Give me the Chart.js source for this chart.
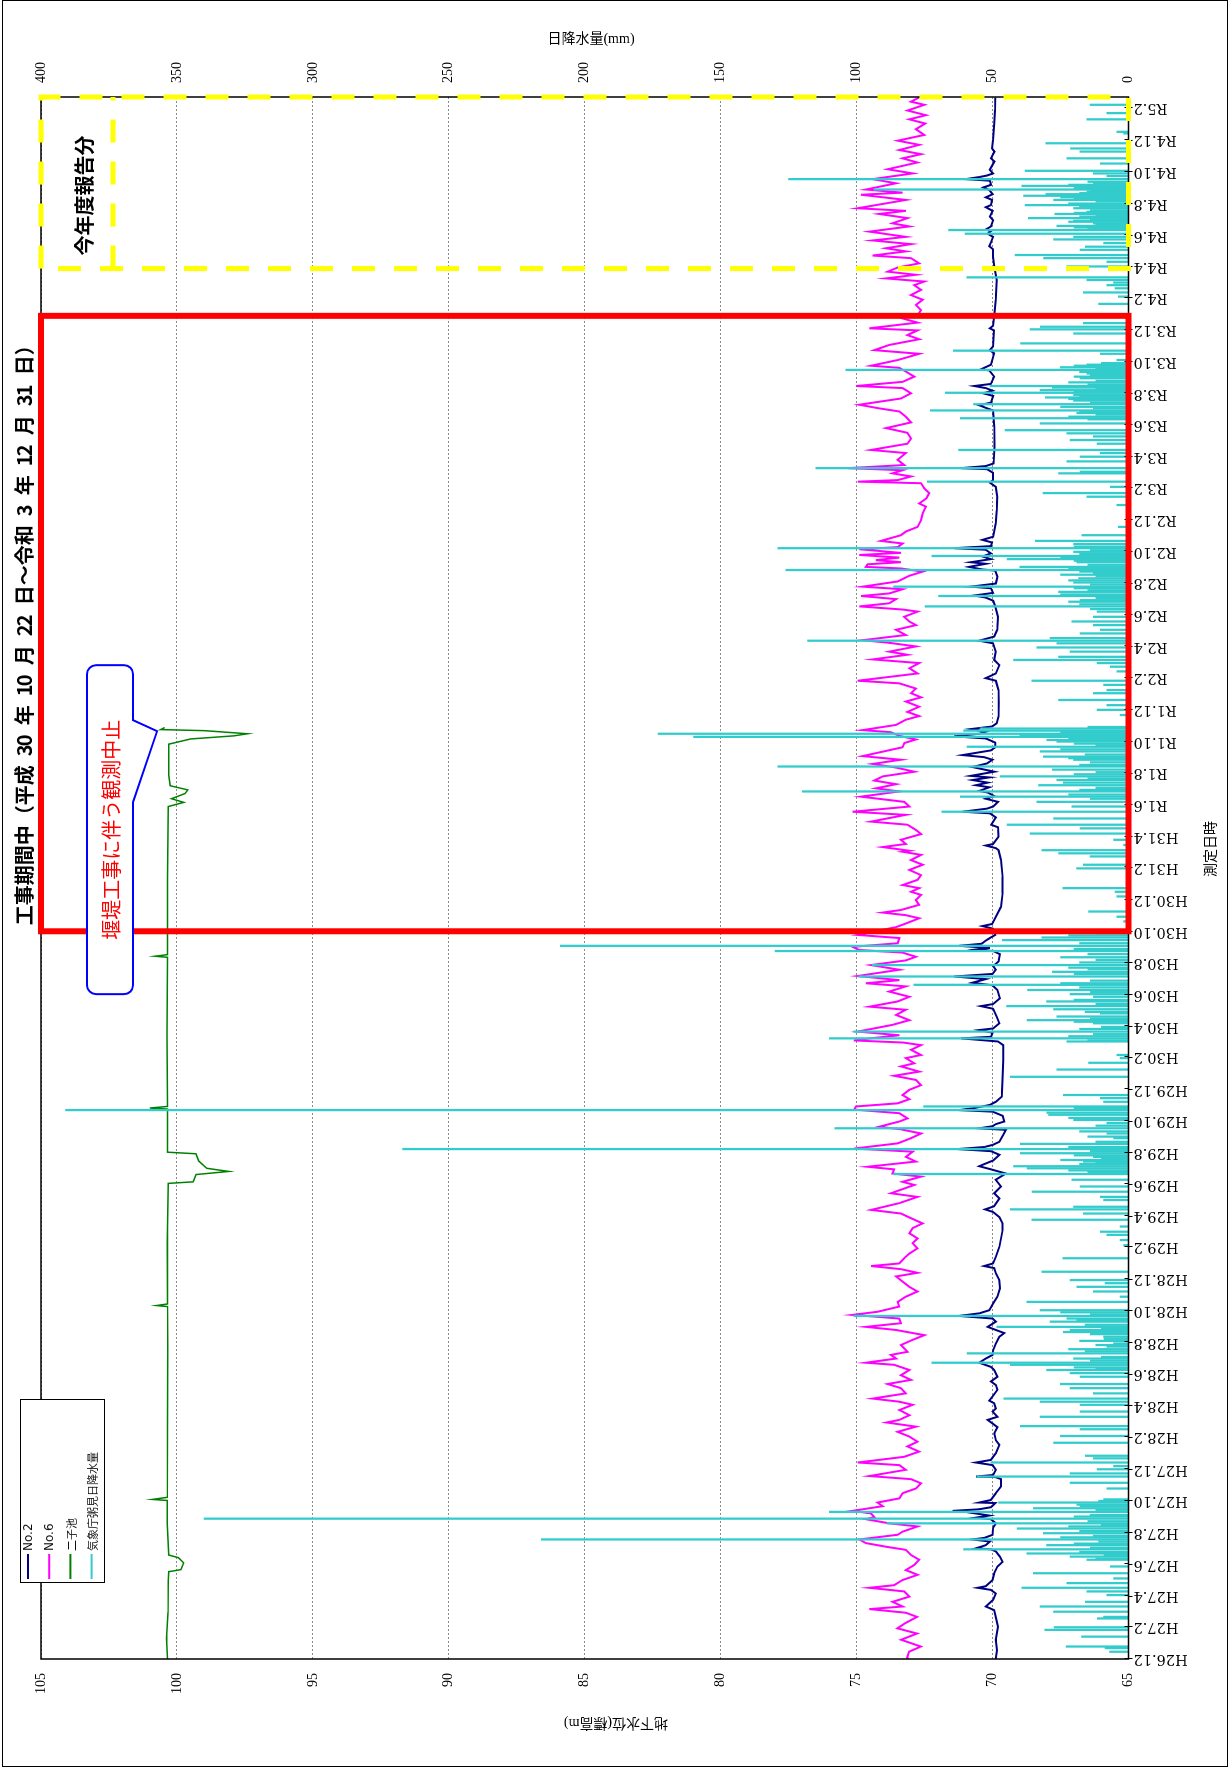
<!DOCTYPE html>
<html lang="ja">
<head>
<meta charset="utf-8">
<title>地下水位・日降水量</title>
<script src="https://cdn.jsdelivr.net/npm/chart.js@4.4.1/dist/chart.umd.min.js"></script>
<style>
  html, body { margin: 0; padding: 0; background: #fff; }
  body { width: 1229px; height: 1767px; position: relative; overflow: hidden; }
  #frame { position: absolute; left: 2px; top: 0; width: 1226px; height: 1767px; border: 1.5px solid #000; box-sizing: border-box; }
  /* the chart is laid out landscape and turned a quarter turn to stand upright on the page */
  #turn { position: absolute; left: 0; top: 0; width: 1767px; height: 1229px;
          transform-origin: 0 0; transform: translate(0px, 1767px) rotate(-90deg); }
  canvas { display: block; }
</style>
</head>
<body>
<div id="frame"></div>
<div id="turn"><canvas id="c" width="1767" height="1229"></canvas></div>
<script>
// All dates are day offsets counted from DAY0.
const DAY0 = [2014, 12, 1];

// Date-axis labels (Heisei / Reiwa year.month), every two months
const tickLabels = ['H26.12','H27.2','H27.4','H27.6','H27.8','H27.10','H27.12','H28.2','H28.4','H28.6','H28.8','H28.10','H28.12',
  'H29.2','H29.4','H29.6','H29.8','H29.10','H29.12','H30.2','H30.4','H30.6','H30.8','H30.10','H30.12','H31.2','H31.4',
  'R1.6','R1.8','R1.10','R1.12','R2.2','R2.4','R2.6','R2.8','R2.10','R2.12','R3.2','R3.4','R3.6','R3.8','R3.10','R3.12',
  'R4.2','R4.4','R4.6','R4.8','R4.10','R4.12','R5.2'];

const seriesNames = ['No.2', 'No.6', '二子池', '気象庁粥見日降水量'];
const seriesColors = ['#000080', '#ff00ff', '#008000', '#33cccc'];
const axisTitles = { date: '測定日時', level: '地下水位(標高m)', rain: '日降水量(mm)' };

// Period boxes [from, to] in day offsets
const constructionSpan = [1400, 2584];   // 工事期間中 H30.10.22 – R3.12.31
const reportSpan = [2675, 3005];         // 今年度報告分
const pondStopDay = 1785;                // 二子池 observation halted
const constructionTitle = '工事期間中（平成 30 年 10 月 22 日～令和 3 年 12 月 31 日）';
const pondNote = '堰堤工事に伴う観測中止';
const reportNote = '今年度報告分';

// Daily rainfall at 粥見 (JMA) [day, mm]
const rainfall = [
[14,7],[21,8.6],[24,23],[43,17.3],[56,30.8],[61,27.4],[78,11.5],[81,9.2],[91,27.6],[101,32.5],[110,15.9],[123,8],[130,15.3],[137,39.2],[146,22.7],[155,5.5],[165,35],[178,6.7],[191,15.3],[193,12],[197,21.5],[200,9],[203,37.4],[206,18],[211,60.7],[214,14],[219,30.1],[222,20],[226,11],[230,216],[234,25],[237,13],[242,31.3],[246,18],[251,41],[255,22],[258,10],[261,88.9],[265,15],[270,340],[274,20],[277,14.1],[283,110],[287,12],[290,35],[294,17.8],[297,19],[301,47.8],[304,11],[307,9.2],[328,8],[339,21.5],[351,55.8],[357,21.5],[365,11.6],[371,5.5],
[378,50.6],[386,12.9],[391,15.9],[416,27.6],[429,25.1],[442,17.8],[448,39.8],[466,32.5],[476,17.8],[489,17.8],[495,32.5],[501,45.9],[511,12.9],[521,21.5],[529,25.1],[543,17.8],[550,21.5],[556,30.1],[558,12],[561,20],[566,43.5],[570,72.3],[574,14],[578,20.2],[581,10],[588,59.4],[592,16],[596,22],[601,8],[604,12],[607,5.5],[612,18],[616,9],[620,9.2],[625,14],[629,24],[633,21.5],[636,10],[639,48.4],[643,16],[649,28.8],[652,19],[655,22.7],[660,101],[663,14],[667,25],[671,32.5],[687,37.4],[697,3.1],[707,12.9],[716,19],[723,8.6],[729,21.5],[745,31.9],
[771,24.2],[796,1.8],[806,3.1],[816,8],[822,10.4],[832,3.1],[845,35.6],[857,16.6],[865,43.5],[870,20.2],[883,9.2],[889,10.4],[899,35.5],[909,17.8],[922,20.8],[933,86.4],[937,15],[940,22],[944,37.3],[948,42.3],[952,18],[955,12],[957,16.6],[960,25],[963,10],[966,12.9],[969,20],[973,39.8],[977,14],[981,267],[985,22],[991,39.8],[995,12],[1002,5.5],[1005,15],[1011,8],[1015,18],[1021,108],[1026,12],[1031,8],[1037,20.2],[1041,22],[1047,29.4],[1051,30],[1056,391],[1060,20],[1063,75.4],[1072,9.2],[1079,10.4],[1085,24],[1120,43.5],[1134,26.4],[1147,14.7],[1156,3.1],[1162,4.3],
[1188,22.7],[1190,15],[1194,110],[1198,22],[1202,12.9],[1207,101],[1212,18],[1216,10],[1223,12.9],[1226,20],[1229,37.3],[1232,14],[1236,26.4],[1242,10.4],[1245,16],[1250,27.6],[1256,44.8],[1260,12],[1265,30.1],[1268,20],[1274,12.9],[1279,21.5],[1283,14],[1287,37.1],[1292,18],[1297,79],[1300,25],[1305,14],[1313,99.3],[1318,20],[1322,28],[1327,15],[1330,22],[1335,94.3],[1340,18],[1345,12],[1350,25],[1356,15],[1362,130],[1366,20],[1372,209],[1377,18],[1383,46.4],[1388,31.9],[1392,22],[1396,12],[1399,30],[1419,1.8],[1428,4.3],[1438,14.7],[1467,4.3],[1476,4.9],[1483,24.2],[1521,19.1],[1528,16.6],[1544,14.1],[1550,25.7],
[1556,31.9],[1566,1.8],[1576,5.5],[1588,36.2],[1598,17.8],[1605,44.7],[1617,27.6],[1630,68.7],[1640,20.8],[1649,33.7],[1655,14],[1659,61.9],[1663,22],[1669,120],[1672,18],[1676,12],[1681,33.1],[1686,24],[1691,26.4],[1694,15],[1698,47.2],[1702,20],[1706,12],[1711,28],[1717,129],[1720,18],[1725,14],[1730,20.2],[1733,22],[1736,31.3],[1740,16],[1746,32.5],[1750,25],[1755,59.4],[1758,12],[1761,20],[1765,26.4],[1768,30],[1771,22],[1774,160],[1777,40],[1780,173],[1783,25],[1786,60.7],[1790,54.6],[1793,15],[1816,3.1],[1826,11.6],[1835,8],[1845,25.7],[1858,12.9],[1864,8],[1874,9.2],[1882,35.6],[1900,4.3],[1909,6.7],[1916,11.6],[1922,42.3],
[1928,25.7],[1938,21.5],[1946,33.7],[1954,26.4],[1959,118],[1964,28.8],[1973,17.8],[1980,10.4],[1989,12.9],[1996,20.8],[2005,12.9],[2015,11.6],[2020,14],[2025,74.8],[2029,18],[2034,22],[2037,17.8],[2041,12],[2045,69.9],[2048,25],[2053,25.7],[2056,15],[2060,20],[2063,86.4],[2067,14],[2071,20.2],[2075,22],[2079,18.4],[2083,12],[2086,25],[2089,12.9],[2092,18],[2095,126],[2098,22],[2101,40],[2105,15],[2110,19],[2113,20],[2116,44.7],[2119,25],[2122,72.3],[2126,18],[2130,20.2],[2133,14],[2137,129],[2140,20],[2145,20.2],[2151,34.3],[2162,17.2],[2178,3.7],[2220,4.3],[2236,15.3],[2243,31.4],[2255,6.7],[2265,74],[2281,25.7],
[2284,17.8],[2291,115],[2304,22.7],[2313,17.8],[2320,10.4],[2326,62.5],[2338,11.6],[2345,21.5],[2352,12.9],[2358,22.7],[2364,45.4],[2377,32.5],[2385,15],[2387,61.9],[2390,22],[2394,12],[2397,19],[2399,18],[2402,72.9],[2406,12.9],[2409,25],[2414,57],[2417,14],[2421,20.2],[2424,22],[2427,30.6],[2429,18],[2432,20.2],[2436,67.4],[2439,20],[2441,32.5],[2443,12],[2446,28],[2449,50.9],[2452,15],[2456,22],[2459,12],[2464,17.8],[2467,20],[2470,14],[2473,15.3],[2476,18],[2480,104],[2482,12],[2485,25.1],[2488,20],[2490,15.3],[2493,10],[2499,4.3],[2511,10.4],[2517,64.4],[2531,39.7],[2550,20.2],[2558,36.2],[2563,32.4],[2570,16.6],[2607,11],[2621,3.7],[2629,16.6],[2637,4.9],[2643,8],
[2648,5.5],[2653,15.3],[2658,59.5],[2679,22.7],[2688,8],[2695,31.2],[2701,41.7],[2711,17.8],[2717,15.9],[2724,9.2],[2731,27.6],[2736,20.2],[2742,60.1],[2749,66.2],[2751,15],[2754,20],[2757,26.4],[2760,12],[2762,12.9],[2765,22],[2767,20.2],[2770,14],[2772,36.8],[2775,18],[2777,12],[2780,27.1],[2782,20],[2784,15.3],[2787,14],[2791,20.2],[2794,18],[2797,38],[2800,22],[2804,12],[2807,27.6],[2810,20],[2812,25],[2815,38.6],[2818,30.4],[2820,18],[2823,15.3],[2825,14],[2827,93.5],[2830,20],[2834,39.2],[2836,22],[2839,12.9],[2842,15],[2847,125],[2853,8],[2858,12.9],[2863,38],[2877,10.4],[2887,22.7],[2900,17.9],[2906,21.3],[2916,30.4],[2935,1.8],[2938,4.3],[2962,15.3],[2974,8],[2990,14.1]
];

// Groundwater level No.2 [day, m]
const no2 = [
[0,69.88],[17,69.84],[37,69.88],[62,69.8],[81,69.88],[94,69.94],[101,70.25],[114,69.98],[126,69.88],[133,70.06],[137,70.55],[140,70.25],[152,70.0],[165,69.94],[178,69.82],[187,69.63],[197,69.73],[207,69.88],[211,70.06],[213,70.61],[219,70.25],[226,70.1],[230,70.74],[233,70.3],[239,70.0],[253,69.98],[261,69.88],[269,70.06],[272,70.61],[276,70.12],[283,71.0],[285,71.47],[288,70.5],[292,70.06],[300,69.9],[301,70.49],[306,70.06],[319,69.88],[332,69.69],[346,69.69],[350,69.9],[351,70.61],[354,69.98],[364,69.88],[373,70.0],[378,70.61],[383,70.06],[396,69.88],[412,69.75],[421,69.88],[434,69.94],[446,69.82],[453,70.0],[460,70.18],[466,69.82],[476,70.0],[482,69.88],[492,69.94],[497,70.12],[505,70.0],[518,69.82],[527,69.88],[534,70.06],[543,69.82],[556,69.94],[562,70.06],[570,70.49],[578,70.25],[585,70.0],[594,69.98],[607,69.88],[620,69.75],[627,69.57],[633,69.88],[639,70.18],[649,69.88],[655,70.0],[660,71.23],[665,70.49],[671,70.12],[684,69.98],[697,69.82],[713,69.73],[729,69.75],[742,69.88],[752,69.94],[756,70.31],[761,69.98],[774,69.88],[793,69.75],[825,69.63],
[838,69.63],[850,69.75],[860,69.98],[865,70.27],[871,69.94],[886,69.75],[896,69.94],[909,69.69],[922,69.88],[934,69.51],[942,70.06],[948,70.49],[952,70.31],[959,69.98],[970,69.75],[977,70.06],[981,71.29],[985,70.3],[989,70.0],[995,69.75],[1008,69.61],[1018,69.51],[1021,70.49],[1025,70.0],[1029,69.88],[1034,69.57],[1045,69.63],[1053,70.0],[1056,71.23],[1060,70.67],[1066,70.1],[1072,69.88],[1082,69.66],[1114,69.63],[1152,69.61],[1181,69.61],[1188,69.8],[1194,71.16],[1197,70.06],[1205,70.0],[1210,70.49],[1213,69.98],[1223,69.75],[1236,69.85],[1251,69.98],[1256,70.43],[1260,69.98],[1271,69.73],[1287,69.82],[1296,70.0],[1301,70.74],[1308,70.25],[1313,71.41],[1318,70.0],[1326,69.88],[1333,69.98],[1342,69.78],[1356,69.73],[1362,69.98],[1365,70.6],[1368,70.1],[1372,71.23],[1376,70.4],[1382,70.25],[1387,70.1],[1393,69.9],[1405,69.98],[1410,70.37],[1414,70.02],[1428,69.88],[1447,69.69],[1473,69.63],[1505,69.63],[1537,69.69],[1556,69.78],
[1560,69.88],[1565,70.25],[1568,69.98],[1582,69.78],[1600,69.8],[1605,70.05],[1619,69.88],[1627,70.1],[1630,71.1],[1636,70.2],[1640,69.98],[1649,69.8],[1655,70.25],[1660,69.93],[1667,70.18],[1670,70.49],[1677,70.12],[1681,70.61],[1686,70.18],[1691,70.74],[1696,70.12],[1699,70.8],[1707,69.94],[1716,70.74],[1723,70.2],[1730,70.0],[1735,70.31],[1739,71.1],[1748,70.06],[1754,69.9],[1763,69.9],[1771,70.25],[1775,71.41],[1780,70.49],[1784,70.25],[1789,70.8],[1794,70.02],[1800,69.85],[1813,69.78],[1839,69.77],[1864,69.78],[1882,69.88],[1887,70.25],[1896,69.88],[1912,69.75],[1922,69.94],[1938,69.88],[1954,69.98],[1959,70.49],[1967,69.94],[1980,69.83],[2005,69.8],[2025,69.9],[2036,69.98],[2042,70.25],[2046,70.67],[2051,69.98],[2060,70.06],[2063,70.8],[2069,69.88],[2082,69.82],[2094,69.9],[2096,70.37],[2101,70.86],[2107,70.25],[2110,70.8],[2116,70.06],[2121,70.37],[2127,70.06],[2134,70.25],[2137,71.41],[2141,70.06],[2148,70.02],[2153,70.37],[2159,69.98],[2185,69.88],[2210,69.85],[2236,69.83],[2255,69.88],[2263,70.1],[2268,69.98],[2282,69.98],[2289,70.2],[2291,71.16],[2295,70.25],[2300,69.96],
[2332,69.93],[2371,69.94],[2402,69.98],[2407,70.25],[2412,70.49],[2417,70.06],[2430,69.98],[2435,70.34],[2440,70.0],[2445,70.25],[2449,70.67],[2453,70.06],[2467,69.94],[2479,70.12],[2481,70.43],[2490,70.06],[2512,69.94],[2518,70.1],[2525,69.98],[2556,69.95],[2560,70.1],[2565,69.98],[2589,69.93],[2615,69.88],[2653,69.85],[2679,69.94],[2698,69.98],[2712,69.98],[2718,70.12],[2725,70.06],[2736,69.98],[2742,70.18],[2747,70.06],[2750,70.25],[2756,70.06],[2768,69.98],[2775,70.1],[2786,70.0],[2793,70.25],[2797,70.06],[2807,70.02],[2812,70.25],[2818,70.0],[2826,70.12],[2831,70.34],[2836,70.06],[2844,70.1],[2847,70.98],[2851,70.49],[2854,70.2],[2858,69.98],[2865,70.1],[2881,69.93],[2887,70.06],[2900,69.93],[2906,70.02],[2922,69.98],[2954,69.94],[2980,69.91],[3004,69.9]
];

// Groundwater level No.6 [day, m]
const no6 = [
[0,73.1],[3,73.14],[14,73.07],[24,72.64],[37,73.36],[49,72.78],[59,73.5],[69,73.21],[81,72.78],[89,73.19],[96,74.53],[101,73.31],[110,73.68],[120,73.06],[130,73.25],[137,74.53],[142,73.62],[152,73.31],[162,72.76],[171,73.19],[181,72.88],[191,72.7],[200,73.0],[210,73.19],[216,73.92],[223,74.66],[230,74.9],[239,73.49],[245,73.31],[255,72.76],[261,73.8],[269,74.66],[273,74.35],[280,74.47],[285,75.15],[294,74.04],[301,74.23],[309,73.43],[319,73.31],[328,72.82],[338,72.63],[346,73.0],[352,74.53],[364,73.19],[373,73.43],[378,74.96],[389,73.25],[399,72.7],[409,73.13],[418,72.76],[428,73.06],[437,73.49],[447,72.82],[455,73.9],[460,73.43],[469,73.06],[479,73.43],[489,72.94],[495,73.43],[501,74.41],[511,73.19],[521,73.37],[529,73.86],[537,73.0],[546,73.37],[556,73.06],[566,73.62],[570,74.66],[578,73.55],[585,73.74],[591,73.13],[604,73.37],[614,72.94],[623,72.51],[633,73.55],[639,74.66],[646,73.37],[655,73.43],[662,75.15],[668,74.23],[678,73.43],[687,73.49],[697,73.19],[707,72.76],[716,73.06],[726,73.31],[736,73.55],[743,72.76],[750,73.37],[756,74.47],[761,73.43],[771,73.25],[780,73.06],[790,72.76],[800,72.94],[809,72.76],[819,73.06],
[829,72.94],[838,72.57],[848,73.0],[857,73.37],[864,74.47],[877,73.43],[889,72.76],[896,73.74],[912,72.88],[918,73.31],[928,72.63],[934,73.68],[942,73.62],[947,74.6],[957,72.82],[966,73.19],[976,72.94],[982,75.09],[992,73.49],[1002,73.0],[1011,72.63],[1019,73.37],[1024,74.17],[1034,73.43],[1040,73.13],[1050,73.43],[1057,75.09],[1063,75.02],[1069,73.49],[1077,73.06],[1085,73.31],[1095,73.06],[1104,72.63],[1114,72.82],[1122,73.62],[1130,72.7],[1140,73.37],[1146,72.88],[1156,73.19],[1162,72.63],[1172,73.0],[1181,72.63],[1186,73.3],[1190,75.1],[1194,74.5],[1200,73.43],[1207,74.96],[1220,73.68],[1229,73.06],[1239,73.55],[1249,73.19],[1255,74.53],[1265,73.49],[1274,73.06],[1284,73.8],[1294,73.19],[1300,74.66],[1306,73.43],[1314,74.96],[1326,73.43],[1335,74.47],[1344,73.19],[1351,72.82],[1359,73.31],[1364,74.9],[1370,75.15],[1377,73.49],[1387,73.43],[1393,74.96],[1408,73.55],[1415,73.19],[1425,72.7],[1431,73.19],[1436,74.04],[1441,73.37],[1451,72.7],[1460,72.82],[1470,72.63],[1476,73.0],[1483,72.7],[1489,73.31],[1499,72.76],[1508,72.63],[1518,73.06],[1528,72.57],[1537,73.0],[1547,72.63],[1553,73.31],
[1555,73.06],[1562,74.04],[1568,73.19],[1576,73.37],[1587,72.63],[1595,72.82],[1605,73.13],[1611,74.47],[1624,73.19],[1630,75.15],[1640,73.06],[1649,73.25],[1659,74.84],[1669,73.43],[1675,74.29],[1683,73.55],[1690,74.35],[1698,74.04],[1707,72.88],[1715,73.55],[1722,74.41],[1730,73.37],[1737,74.78],[1754,73.31],[1762,73.25],[1769,72.82],[1776,73.43],[1783,73.74],[1787,74.78],[1797,73.55],[1807,73.19],[1814,72.7],[1822,73.13],[1832,72.7],[1842,73.19],[1850,72.63],[1858,73.0],[1867,72.82],[1877,73.43],[1882,74.96],[1896,72.76],[1906,73.06],[1916,72.7],[1923,74.41],[1932,73.13],[1938,73.8],[1948,72.82],[1955,73.8],[1960,74.78],[1970,73.19],[1980,73.55],[1989,72.82],[1996,73.06],[2005,73.25],[2015,72.76],[2019,73.31],[2025,74.9],[2031,73.8],[2039,73.55],[2045,74.84],[2050,73.8],[2058,73.31],[2063,74.78],[2073,73.49],[2084,73.06],[2092,72.57],[2098,73.37],[2101,74.66],[2106,74.6],[2110,73.37],[2114,74.29],[2119,73.43],[2124,74.9],[2128,73.37],[2135,74.9],[2139,73.49],[2146,73.31],[2151,74.11],[2162,73.37],[2169,73.19],[2178,72.76],[2191,72.63],[2204,72.57],[2217,72.45],[2223,72.7],[2233,72.43],[2243,72.33],[2252,72.51],[2262,72.63],[2265,74.96],[2268,73.49],[2275,73.0],[2281,73.68],[2287,73.31],
[2291,75.33],[2297,73.25],[2307,73.49],[2320,73.19],[2326,74.47],[2338,73.13],[2348,73.0],[2359,73.13],[2368,73.92],[2379,73.0],[2390,73.19],[2400,73.43],[2406,74.17],[2413,74.9],[2425,73.37],[2435,73.0],[2445,73.31],[2449,75.02],[2457,73.31],[2467,72.88],[2477,73.19],[2484,73.43],[2488,74.47],[2499,73.49],[2511,72.7],[2518,74.35],[2528,73.8],[2539,72.7],[2547,73.13],[2556,72.76],[2560,74.53],[2571,72.76],[2579,73.31],[2588,72.72],[2595,72.63],[2605,72.82],[2615,72.57],[2624,73.0],[2634,72.63],[2643,72.88],[2650,72.51],[2656,73.92],[2663,72.82],[2669,73.86],[2677,73.49],[2685,72.7],[2695,73.0],[2700,74.41],[2708,73.19],[2714,73.92],[2722,73.0],[2729,74.41],[2736,73.19],[2746,74.53],[2756,73.06],[2762,73.68],[2772,73.13],[2780,74.17],[2786,73.19],[2791,74.96],[2807,73.19],[2817,74.84],[2821,73.31],[2827,74.66],[2839,73.55],[2847,74.41],[2858,72.94],[2866,73.86],[2879,72.76],[2887,73.31],[2895,72.63],[2903,73.43],[2913,72.7],[2921,73.49],[2932,72.51],[2943,72.82],[2954,72.48],[2962,73.06],[2970,72.45],[2979,73.13],[2990,72.51],[2996,73.0],[3004,72.7]
];

// Water level of 二子池 [day, m]
const pond = [
[0,100.35],[40,100.38],[90,100.33],[150,100.32],[168,100.3],[172,99.85],[185,99.75],[195,99.95],[200,100.3],[260,100.36],[305,100.36],[307,100.9],[311,100.36],[450,100.35],[600,100.34],[678,100.35],[680,100.75],[683,100.35],[800,100.36],[915,100.32],[918,99.4],[932,99.3],[938,98.1],[944,98.9],[958,99.2],[972,99.3],[975,100.35],[1058,100.35],[1060,101.0],[1063,100.35],[1200,100.37],[1350,100.35],[1352,100.8],[1355,100.35],[1500,100.35],[1640,100.32],[1648,99.75],[1655,100.2],[1665,99.7],[1672,99.6],[1680,100.25],[1700,100.3],[1760,100.3],[1770,99.5],[1776,97.9],[1780,97.4],[1786,99.0],[1788,100.6],[1792,100.45]
];

// ---------------------------------------------------------------------------
const base = Date.UTC(DAY0[0], DAY0[1] - 1, DAY0[2]);
const tickDay = tickLabels.map(t => {
  const m = /^([HR])(\d+)\.(\d+)$/.exec(t);
  const year = (m[1] === 'H' ? 1988 : 2018) + Number(m[2]);
  return Math.round((Date.UTC(year, Number(m[3]) - 1, 1) - base) / 86400000);
});
const labelAt = new Map(tickDay.map((d, i) => [d, tickLabels[i]]));
const xy = arr => arr.map(([d, v]) => ({ x: d, y: v })).sort((a, b) => a.x - b.x);

const serif = "'Liberation Serif', 'Noto Sans CJK JP', serif";
const gothic = "'Noto Sans CJK JP', 'Liberation Sans', sans-serif";

// Japanese fixed-pitch layout: half-width cell for ASCII, full cell otherwise
function drawCells(ctx, text, x, y, size) {
  for (const ch of text) {
    const w = ch.charCodeAt(0) < 0x100 ? size / 2 : size;
    ctx.fillText(ch, x + w / 2, y);
    x += w;
  }
}

const decorations = {
  id: 'decorations',
  afterDatasetsDraw(chart) {
    const { ctx, chartArea: a, scales: { x, y } } = chart;
    const X = d => x.getPixelForValue(d);
    ctx.save();

    // inner half of the date-axis tick marks
    ctx.strokeStyle = '#000';
    ctx.lineWidth = 1;
    tickDay.forEach(d => {
      const p = Math.round(X(d)) + 0.5;
      ctx.beginPath(); ctx.moveTo(p, a.bottom); ctx.lineTo(p, a.bottom - 4); ctx.stroke();
    });

    // plot frame
    ctx.lineWidth = 1.5;
    ctx.strokeRect(a.left, a.top, a.right - a.left, a.bottom - a.top);

    // construction period (red)
    const c0 = X(constructionSpan[0]), c1 = X(constructionSpan[1]);
    ctx.strokeStyle = '#ff0000';
    ctx.lineWidth = 6;
    ctx.strokeRect(c0, a.top, c1 - c0, a.bottom - a.top);

    // this year's reporting period (yellow dashed)
    const r0 = X(reportSpan[0]), r1 = Math.min(X(reportSpan[1]), a.right);
    ctx.strokeStyle = '#ffff00';
    ctx.lineWidth = 5;
    ctx.setLineDash([23, 19]);
    ctx.strokeRect(r0, a.top, r1 - r0, a.bottom - a.top);
    ctx.beginPath(); ctx.moveTo(r0, a.top + 72); ctx.lineTo(r1, a.top + 72); ctx.stroke();
    ctx.setLineDash([]);

    ctx.fillStyle = '#000';
    ctx.textBaseline = 'middle';
    ctx.textAlign = 'center';
    ctx.font = 'bold 20px ' + gothic;
    ctx.fillText(reportNote, r0 + 73, a.top + 43);

    // heading of the construction period
    ctx.font = 'bold 20px ' + gothic;
    drawCells(ctx, constructionTitle, c0 + 6, a.top - 17, 20);

    // call-out: 二子池 observation halted
    const tx = X(pondStopDay), ty = y.getPixelForValue(100.73);
    const bx0 = tx - 263, bx1 = tx + 66, by0 = ty - 70, by1 = ty - 24, r = 9;
    ctx.beginPath();
    ctx.moveTo(bx0 + r, by0);
    ctx.lineTo(bx1 - r, by0); ctx.arcTo(bx1, by0, bx1, by0 + r, r);
    ctx.lineTo(bx1, by1 - r); ctx.arcTo(bx1, by1, bx1 - r, by1, r);
    ctx.lineTo(tx + 11, by1); ctx.lineTo(tx, ty); ctx.lineTo(tx - 71, by1);
    ctx.lineTo(bx0 + r, by1); ctx.arcTo(bx0, by1, bx0, by1 - r, r);
    ctx.lineTo(bx0, by0 + r); ctx.arcTo(bx0, by0, bx0 + r, by0, r);
    ctx.closePath();
    ctx.fillStyle = '#fff'; ctx.fill();
    ctx.strokeStyle = '#0000ff'; ctx.lineWidth = 2; ctx.stroke();
    ctx.fillStyle = '#ff0000';
    ctx.textAlign = 'center';
    ctx.font = '20px ' + gothic;
    ctx.fillText(pondNote, (bx0 + bx1) / 2, (by0 + by1) / 2 + 1);

    // legend
    const lx = a.left + 76, ly = 20, lw = 183, lh = 84;
    ctx.fillStyle = '#fff';
    ctx.fillRect(lx, ly, lw, lh);
    ctx.strokeStyle = '#000'; ctx.lineWidth = 1;
    ctx.strokeRect(lx + 0.5, ly + 0.5, lw, lh);
    ctx.textAlign = 'left';
    seriesNames.forEach((name, i) => {
      const yy = ly + 8 + i * 21.2;
      ctx.strokeStyle = seriesColors[i]; ctx.lineWidth = 2;
      ctx.beginPath(); ctx.moveTo(lx + 4, yy); ctx.lineTo(lx + 29, yy); ctx.stroke();
      ctx.fillStyle = '#111';
      ctx.font = /^[\x00-\x7f]*$/.test(name) ? "12px 'DejaVu Sans', sans-serif" : '11px ' + gothic;
      ctx.fillText(name, lx + 32, yy + 1);
    });

    // axis titles
    ctx.fillStyle = '#000';
    ctx.textAlign = 'center';
    ctx.font = '14px ' + serif;
    ctx.fillText(axisTitles.date, 918, 1211);
    ctx.save(); ctx.translate(44, 616); ctx.rotate(-Math.PI / 2);
    ctx.fillText(axisTitles.level, 0, 0); ctx.restore();
    ctx.save(); ctx.translate(1728, 591); ctx.rotate(Math.PI / 2);
    ctx.fillText(axisTitles.rain, 0, 0); ctx.restore();

    ctx.restore();
  }
};

new Chart(document.getElementById('c'), {
  type: 'line',
  data: {
    datasets: [
      { type: 'bar', label: seriesNames[3], data: xy(rainfall), yAxisID: 'y2', backgroundColor: seriesColors[3],
        barThickness: 1.6, order: 0 },
      { label: seriesNames[0], data: xy(no2), yAxisID: 'y', borderColor: seriesColors[0], borderWidth: 2,
        pointRadius: 0, tension: 0, order: 2 },
      { label: seriesNames[1], data: xy(no6), yAxisID: 'y', borderColor: seriesColors[1], borderWidth: 2,
        pointRadius: 0, tension: 0, order: 3 },
      { label: seriesNames[2], data: xy(pond), yAxisID: 'y', borderColor: seriesColors[2], borderWidth: 1.5,
        pointRadius: 0, tension: 0, order: 4 }
    ]
  },
  options: {
    responsive: false,
    animation: false,
    devicePixelRatio: 1,
    events: [],
    layout: { padding: { top: 41, left: 0, right: 0, bottom: 0 } },
    plugins: { legend: { display: false }, tooltip: { enabled: false } },
    scales: {
      x: {
        type: 'linear', min: 0, max: 3005, offset: false,
        afterBuildTicks: s => { s.ticks = tickDay.map(v => ({ value: v })); },
        afterFit: s => { s.height = 100.5; },
        grid: { drawOnChartArea: false, drawTicks: true, tickLength: 4, color: '#000', offset: false },
        border: { display: false },
        ticks: { autoSkip: false, minRotation: 90, maxRotation: 90, padding: 1, color: '#000',
                 font: { family: "'DejaVu Serif', serif", size: 14.5 }, callback: v => labelAt.get(v) ?? '' }
      },
      y: {
        position: 'left', min: 65, max: 105,
        afterFit: s => { s.width = 108; },
        grid: { color: '#8c8c8c', lineWidth: 1, drawTicks: false },
        border: { display: false, dash: [2, 2] },
        ticks: { stepSize: 5, padding: 14, color: '#000', font: { family: serif, size: 14 } }
      },
      y2: {
        position: 'right', min: 0, max: 400,
        afterFit: s => { s.width = 97; },
        grid: { display: false, drawTicks: false },
        border: { display: false },
        ticks: { stepSize: 50, padding: 14, color: '#000', font: { family: serif, size: 14 } }
      }
    }
  },
  plugins: [decorations]
});
</script>
</body>
</html>
